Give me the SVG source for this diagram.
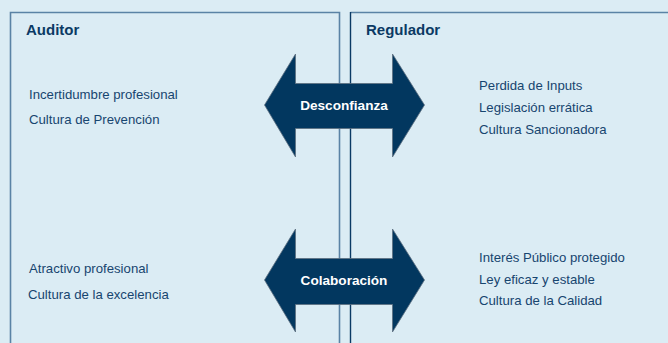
<svg xmlns="http://www.w3.org/2000/svg" width="668" height="343" viewBox="0 0 668 343">
  <style>
    .bg { fill: #dbecf4; }
    .box { fill: none; stroke: #5a83a5; stroke-width: 1.6; }
    .edge { fill: none; stroke: #0a3a64; stroke-width: 1.4; }
    .head { font-family: "Liberation Sans", Arial, sans-serif; font-weight: bold; font-size: 15px; fill: #0b3a64; }
    .item { font-family: "Liberation Sans", Arial, sans-serif; font-size: 13.2px; fill: #17456f; }
    .arrow { fill: #02375f; stroke: #5d6f80; stroke-width: 0.8; }
    .label { font-family: "Liberation Sans", Arial, sans-serif; font-weight: bold; font-size: 13.6px; fill: #ffffff; text-anchor: middle; }
  </style>
  <rect class="bg" x="0" y="0" width="668" height="343"/>

  <g id="auditor">
    <path class="box" d="M10.5,345 V12.5 H339.5 V345"/>
    <text class="head" x="26" y="35">Auditor</text>
    <text class="item" x="29" y="99">Incertidumbre profesional</text>
    <text class="item" x="29" y="124">Cultura de Prevención</text>
    <text class="item" x="29" y="273">Atractivo profesional</text>
    <text class="item" x="28" y="299">Cultura de la excelencia</text>
  </g>

  <g id="regulador">
    <path class="box" d="M350.5,12.5 H670"/>
    <path class="edge" d="M350.5,12 V345"/>
    <text class="head" x="366" y="35">Regulador</text>
    <text class="item" x="479" y="90">Perdida de Inputs</text>
    <text class="item" x="479" y="112">Legislación errática</text>
    <text class="item" x="479" y="134">Cultura Sancionadora</text>
    <text class="item" x="479" y="262">Interés Público protegido</text>
    <text class="item" x="479" y="284">Ley eficaz y estable</text>
    <text class="item" x="479" y="305">Cultura de la Calidad</text>
  </g>

  <g id="connectors">
    <g id="desconfianza">
      <path class="arrow" d="M264.5,105 L295.5,54 V83.5 H392.5 V54 L424.5,105 L392.5,157 V128.5 H295.5 V157 Z"/>
      <text class="label" x="344" y="110">Desconfianza</text>
    </g>
    <g id="colaboracion">
      <path class="arrow" d="M264.5,280 L295.5,229 V258.5 H392.5 V229 L424.5,280 L392.5,332 V304.5 H295.5 V332 Z"/>
      <text class="label" x="344" y="285">Colaboración</text>
    </g>
  </g>
</svg>
